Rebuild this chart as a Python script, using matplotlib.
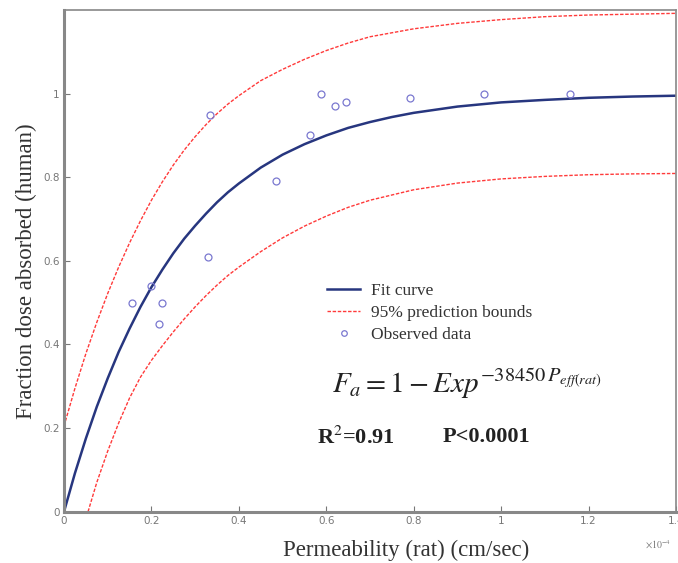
#!/usr/bin/env python3
"""
Fraction absorbed in human vs rat permeability, with fit and 95% bounds.
"""

import matplotlib
matplotlib.use("Agg")
import matplotlib.pyplot as plt

# observed data (x in 1e-4 cm/sec)
obs_x = [0.156, 0.200, 0.225, 0.217, 0.330, 0.335, 0.485, 0.563, 0.588,
         0.620, 0.644, 0.792, 0.960, 1.157]
obs_y = [0.50, 0.54, 0.50, 0.45, 0.61, 0.95, 0.79, 0.90, 1.00,
         0.97, 0.98, 0.99, 1.00, 1.00]

# fit curve
fit_x = [0, 0.025, 0.05, 0.075, 0.1, 0.125, 0.15, 0.175, 0.2, 0.225, 0.25,
         0.275, 0.3, 0.325, 0.35, 0.375, 0.4, 0.45, 0.5, 0.55, 0.6, 0.65,
         0.7, 0.75, 0.8, 0.9, 1.0, 1.1, 1.2, 1.3, 1.4]
fit_y = [0, 0.092, 0.175, 0.251, 0.319, 0.382, 0.438, 0.490, 0.537, 0.579,
         0.618, 0.653, 0.684, 0.713, 0.740, 0.764, 0.785, 0.823, 0.854,
         0.879, 0.900, 0.918, 0.932, 0.944, 0.954, 0.969, 0.979, 0.985,
         0.990, 0.993, 0.995]

# 95% prediction bounds
up_x = [0, 0.025, 0.05, 0.075, 0.1, 0.125, 0.15, 0.175, 0.2, 0.225, 0.25,
        0.275, 0.3, 0.325, 0.35, 0.375, 0.4, 0.45, 0.5, 0.55, 0.6, 0.65,
        0.7, 0.8, 0.9, 1.0, 1.1, 1.2, 1.3, 1.4]
up_y = [0.205, 0.295, 0.378, 0.453, 0.522, 0.585, 0.643, 0.696, 0.745,
        0.789, 0.829, 0.865, 0.897, 0.926, 0.952, 0.975, 0.995, 1.031,
        1.058, 1.082, 1.103, 1.121, 1.136, 1.155, 1.168, 1.177, 1.184,
        1.188, 1.190, 1.192]
lo_x = [0.055, 0.075, 0.1, 0.125, 0.15, 0.175, 0.2, 0.225, 0.25, 0.275,
        0.3, 0.325, 0.35, 0.375, 0.4, 0.45, 0.5, 0.55, 0.6, 0.65, 0.7,
        0.8, 0.9, 1.0, 1.1, 1.2, 1.3, 1.4]
lo_y = [0, 0.07, 0.145, 0.212, 0.272, 0.322, 0.362, 0.397, 0.43, 0.461,
        0.49, 0.517, 0.542, 0.565, 0.585, 0.622, 0.655, 0.683, 0.707,
        0.728, 0.745, 0.77, 0.786, 0.796, 0.802, 0.806, 0.808, 0.809]

xticks = [0, 0.2, 0.4, 0.6, 0.8, 1, 1.2, 1.4]
xticklabels = ["0", "0.2", "0.4", "0.6", "0.8", "1", "1.2", "1.4"]
yticks = [0, 0.2, 0.4, 0.6, 0.8, 1]
yticklabels = ["0", "0.2", "0.4", "0.6", "0.8", "1"]

SERIF = ["Liberation Serif", "DejaVu Serif"]
plt.rcParams["mathtext.fontset"] = "stix"

fig = plt.figure(figsize=(6.78, 5.63), dpi=100)
ax = fig.add_axes([64 / 678, 51.3 / 563, 612 / 678, 501.7 / 563])

ax.plot(fit_x, fit_y, color="#27367f", linewidth=1.8, label="Fit curve")
ax.plot(up_x, up_y, color="#ff3a3a", linestyle=(0, (2.5, 1.2)),
        linewidth=1.0, label="95% prediction bounds")
ax.plot(lo_x, lo_y, color="#ff3a3a", linestyle=(0, (2.5, 1.2)), linewidth=1.0)
ax.plot(obs_x, obs_y, linestyle="none", marker="o", markersize=5,
        markerfacecolor="none", markeredgecolor="#7a78d0",
        markeredgewidth=0.9, label="Observed data")

ax.set_xlim(0, 1.4)
ax.set_ylim(0, 1.2)
ax.set_xticks(xticks)
ax.set_xticklabels(xticklabels)
ax.set_yticks(yticks)
ax.set_yticklabels(yticklabels)
ax.tick_params(direction="in", length=4, width=0.8, colors="#777777",
               labelsize=7.5, pad=3)
for s in ax.spines.values():
    s.set_color("#888888")
    s.set_linewidth(1.2)
ax.spines["left"].set_linewidth(2.2)
ax.spines["bottom"].set_linewidth(2.2)

ax.set_xlabel("Permeability (rat) (cm/sec)", family=SERIF, fontsize=16.5,
              color="#333333")
ax.xaxis.set_label_coords(0.559, -0.056)
ax.set_ylabel("Fraction dose absorbed (human)", family=SERIF, fontsize=16.5,
              color="#333333")
ax.yaxis.set_label_coords(-0.044, 0.48)

leg = ax.legend(loc="upper left", bbox_to_anchor=(0.41, 0.48), frameon=False,
                prop={"family": SERIF, "size": 12.5}, handlelength=1.9,
                labelspacing=0.33, handletextpad=0.65, borderpad=0.2,
                markerscale=0.8)
for t in leg.get_texts():
    t.set_color("#333333")

ax.text(0.438, 0.255, r"$F_a=1-Exp^{-38450\,P_{eff(rat)}}$",
        transform=ax.transAxes, fontsize=21, color="#222222", va="center")
ax.text(0.413, 0.148, r"R$^2$=0.91", transform=ax.transAxes, family=SERIF,
        fontsize=16, fontweight="bold", va="center", color="#222222")
ax.text(0.618, 0.148, "P<0.0001", transform=ax.transAxes, family=SERIF,
        fontsize=16, fontweight="bold", va="center", color="#222222")

fig.text(645 / 678, 1 - 545 / 563, r"$\times10^{-4}$", fontsize=7,
         color="#777777", va="center")

fig.savefig("out.png", dpi=100)
